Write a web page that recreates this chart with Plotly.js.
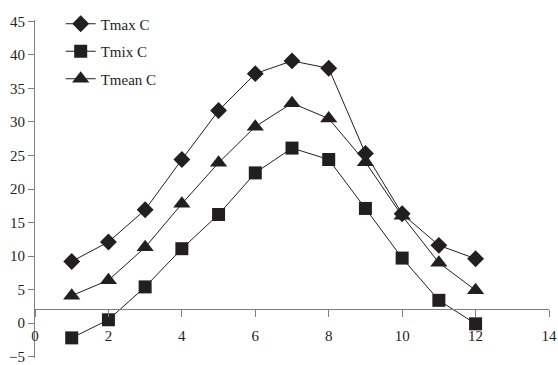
<!DOCTYPE html>
<html>
<head>
<meta charset="utf-8">
<script src="https://cdn.plot.ly/plotly-3.0.1.min.js"></script>
<style>
  html, body { margin: 0; padding: 0; background: #fff; }
  #chart { width: 558px; height: 365px; }
</style>
</head>
<body>
<div id="chart"></div>
<script>
// Values
const months = [1, 2, 3, 4, 5, 6, 7, 8, 9, 10, 11, 12];
const tmax = [9.2, 12.1, 16.9, 24.4, 31.7, 37.2, 39.1, 38.0, 25.3, 16.3, 11.6, 9.6];
const tmix = [-2.2, 0.5, 5.4, 11.1, 16.2, 22.4, 26.1, 24.4, 17.1, 9.7, 3.4, -0.1];
const tmean = [4.1, 6.4, 11.3, 17.8, 23.9, 29.3, 32.8, 30.5, 24.0, 16.0, 9.0, 4.9];
const seriesNames = ['Tmax C', 'Tmix C', 'Tmean C'];
const xTicks = [0, 2, 4, 6, 8, 10, 12, 14];
const yTicks = [-5, 0, 5, 10, 15, 20, 25, 30, 35, 40, 45];

const ink = '#231f20';
const axisGrey = '#7f7f7f';
const font = { family: 'Liberation Serif, Times New Roman, serif', size: 15, color: ink };

function series(y, name, symbol, size, group) {
    return {
        x: months, y: y, name: name, legendgroup: group,
        mode: 'lines+markers', cliponaxis: false,
        line: { color: ink, width: 1 },
        marker: { symbol: symbol, size: size, color: ink }
    };
}

const traces = [
    series(tmax, seriesNames[0], 'diamond', 13, 'a'),
    series(tmix, seriesNames[1], 'square', 13, 'b'),
    series(tmean, seriesNames[2], 'triangle-up', 15, 'c')
];

// y range padded a little so the end labels (-5, 45) are kept
const yLo = -5.2, yHi = 45.2;

const layout = {
    width: 558, height: 365,
    margin: { l: 35, r: 9, t: 13, b: 7 },
    paper_bgcolor: '#fff', plot_bgcolor: '#fff',
    font: font,
    showlegend: true,
    legend: {
        x: 0.05, y: 1.037, xanchor: 'left', yanchor: 'top',
        bgcolor: 'rgba(0,0,0,0)', font: font,
        itemwidth: 30, tracegroupgap: 5
    },
    xaxis: {
        range: [0, 14], tickvals: xTicks,
        anchor: 'free', position: (2.1 - yLo) / (yHi - yLo),
        showline: true, linecolor: axisGrey, linewidth: 1,
        ticks: 'outside', ticklen: 7, tickcolor: axisGrey,
        ticklabelstandoff: 6,
        showgrid: false, zeroline: false,
        tickfont: font
    },
    yaxis: {
        range: [yLo, yHi], tickvals: yTicks,
        showline: true, linecolor: axisGrey, linewidth: 1,
        ticks: 'outside', ticklen: 6, tickcolor: axisGrey,
        showgrid: false, zeroline: false,
        tickfont: font
    }
};

Plotly.newPlot('chart', traces, layout, { displayModeBar: false, staticPlot: true });
</script>
</body>
</html>
